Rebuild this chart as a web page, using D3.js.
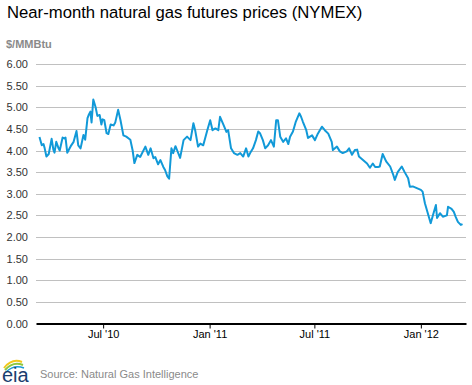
<!DOCTYPE html>
<html>
<head>
<meta charset="utf-8">
<script src="https://cdn.jsdelivr.net/npm/d3@7"></script>
<style>
  body { margin: 0; background: #fff; }
  text { font-family: "Liberation Sans", Arial, sans-serif; }
</style>
</head>
<body>
<script>
// near-month futures price, $/MMBtu
var dates = [
  "2010-03-13","2010-03-17","2010-03-20","2010-03-22","2010-03-25","2010-03-29","2010-04-03","2010-04-06",
  "2010-04-08","2010-04-11","2010-04-15","2010-04-17","2010-04-22","2010-04-25","2010-04-27","2010-04-30",
  "2010-05-06","2010-05-11","2010-05-16","2010-05-19","2010-05-23","2010-05-28","2010-05-31","2010-06-04",
  "2010-06-06","2010-06-09","2010-06-11","2010-06-14","2010-06-18","2010-06-21","2010-06-25","2010-06-28",
  "2010-06-30","2010-07-03","2010-07-07","2010-07-10","2010-07-14","2010-07-19","2010-07-22","2010-07-27",
  "2010-07-31","2010-08-05","2010-08-10","2010-08-17","2010-08-21","2010-08-24","2010-08-29","2010-09-03",
  "2010-09-12","2010-09-17","2010-09-21","2010-09-26","2010-09-29","2010-10-04","2010-10-08","2010-10-13",
  "2010-10-16","2010-10-20","2010-10-23","2010-10-25","2010-10-27","2010-10-30","2010-11-03","2010-11-06",
  "2010-11-11","2010-11-17","2010-11-23","2010-11-29","2010-12-04","2010-12-07","2010-12-12","2010-12-16",
  "2010-12-21","2010-12-28","2011-01-02","2011-01-06","2011-01-11","2011-01-16","2011-01-19","2011-01-25",
  "2011-01-30","2011-02-02","2011-02-07","2011-02-12","2011-02-18","2011-02-23","2011-02-28","2011-03-05",
  "2011-03-09","2011-03-12","2011-03-17","2011-03-22","2011-03-26","2011-03-29","2011-04-03","2011-04-07",
  "2011-04-12","2011-04-17","2011-04-22","2011-04-26","2011-04-29","2011-05-03","2011-05-08","2011-05-13",
  "2011-05-17","2011-05-20","2011-05-25","2011-05-30","2011-06-05","2011-06-08","2011-06-11","2011-06-17",
  "2011-06-20","2011-06-27","2011-07-02","2011-07-07","2011-07-14","2011-07-19","2011-07-25","2011-07-31",
  "2011-08-02","2011-08-09","2011-08-14","2011-08-19","2011-08-26","2011-08-30","2011-09-04","2011-09-09",
  "2011-09-13","2011-09-16","2011-09-23","2011-09-30","2011-10-05","2011-10-10","2011-10-14","2011-10-19",
  "2011-10-22","2011-10-27","2011-11-02","2011-11-09","2011-11-14","2011-11-17","2011-11-22","2011-11-29",
  "2011-12-04","2011-12-10","2011-12-13","2011-12-18","2011-12-25","2012-01-01","2012-01-04","2012-01-08",
  "2012-01-13","2012-01-18","2012-01-22","2012-01-27","2012-01-29","2012-02-03","2012-02-08","2012-02-15",
  "2012-02-17","2012-02-23","2012-02-27","2012-03-01","2012-03-05","2012-03-10","2012-03-13"
];
var prices = [
  4.31,4.12,4.15,4.05,3.86,3.92,4.27,4.02,
  3.95,4.20,4.05,4.00,4.30,4.28,4.30,3.95,
  4.10,4.20,4.45,4.12,4.05,4.36,4.25,4.75,
  4.82,4.90,4.65,5.18,5.00,4.80,4.82,4.60,
  4.72,4.70,4.40,4.38,4.60,4.58,4.65,4.94,
  4.70,4.35,4.32,4.25,4.00,3.71,3.90,3.85,
  4.09,3.90,4.05,3.82,3.85,3.68,3.78,3.62,
  3.55,3.40,3.35,3.70,4.05,3.94,4.10,4.00,
  3.83,4.24,4.32,4.24,4.63,4.47,4.09,4.16,
  4.12,4.47,4.70,4.47,4.51,4.47,4.78,4.59,
  4.43,4.47,4.05,3.94,3.90,3.94,3.86,4.05,
  3.86,3.94,4.05,4.24,4.44,4.40,4.24,4.05,
  4.12,4.24,4.09,4.70,4.70,4.32,4.20,4.28,
  4.15,4.32,4.44,4.67,4.86,4.78,4.67,4.47,
  4.29,4.35,4.24,4.39,4.55,4.47,4.39,4.20,
  4.01,4.09,3.98,3.94,3.98,4.05,3.90,4.01,
  4.02,3.86,3.78,3.70,3.60,3.70,3.62,3.62,
  3.63,3.92,3.75,3.63,3.45,3.32,3.50,3.63,
  3.50,3.36,3.16,3.17,3.13,3.09,3.05,2.78,
  2.55,2.32,2.51,2.74,2.44,2.55,2.47,2.50,
  2.70,2.65,2.58,2.47,2.35,2.28,2.30
];
var yTicks = [0, 0.5, 1, 1.5, 2, 2.5, 3, 3.5, 4, 4.5, 5, 5.5, 6];
var xTicks = ["2010-07-01", "2011-01-01", "2011-07-01", "2012-01-01"];

var width = 472, height = 385;
var plotLeft = 36, plotRight = 466, plotTop = 64, plotBottom = 323.5;

var parse = d3.utcParse("%Y-%m-%d");
var data = dates.map(function(d, i) { return { date: parse(d), value: prices[i] }; });

var svg = d3.select("body").append("svg")
    .attr("width", width)
    .attr("height", height);

var x = d3.scaleUtc()
    .domain([parse("2010-03-07"), parse("2012-03-19")])
    .range([plotLeft, plotRight]);

var y = d3.scaleLinear()
    .domain([0, 6])
    .range([plotBottom, plotTop]);

// title
svg.append("text")
    .attr("x", 7).attr("y", 18)
    .attr("font-size", 16.7)
    .attr("fill", "#000")
    .text("Near-month natural gas futures prices (NYMEX)");

// unit label
svg.append("text")
    .attr("x", 6).attr("y", 48)
    .attr("font-size", 11)
    .attr("font-weight", "bold")
    .attr("fill", "#8a8a8a")
    .text("$/MMBtu");

// gridlines
svg.append("g")
  .selectAll("line")
  .data(yTicks.filter(function(t) { return t > 0; }))
  .join("line")
    .attr("x1", plotLeft).attr("x2", plotRight)
    .attr("y1", function(d) { return Math.round(y(d)) + 0.5; })
    .attr("y2", function(d) { return Math.round(y(d)) + 0.5; })
    .attr("stroke", "#c0c0c0")
    .attr("stroke-width", 1);

// y labels
svg.append("g")
  .selectAll("text")
  .data(yTicks)
  .join("text")
    .attr("x", 28)
    .attr("y", function(d) { return y(d) + 4; })
    .attr("text-anchor", "end")
    .attr("font-size", 11)
    .attr("fill", "#333")
    .text(function(d) { return d3.format(".2f")(d); });

// x axis
var xAxis = d3.axisBottom(x)
    .tickValues(xTicks.map(parse))
    .tickFormat(d3.utcFormat("%b '%y"))
    .tickSize(5)
    .tickSizeOuter(0);

var gx = svg.append("g")
    .attr("transform", "translate(0," + plotBottom + ")")
    .call(xAxis);
gx.select(".domain").attr("stroke", "#000").attr("stroke-width", 2);
gx.selectAll(".tick line").attr("stroke", "#000");
gx.selectAll(".tick text")
    .attr("font-size", 11)
    .attr("font-family", "Liberation Sans, Arial, sans-serif")
    .attr("fill", "#000")
    .attr("dy", "0.55em");

// price line
var line = d3.line()
    .x(function(d) { return x(d.date); })
    .y(function(d) { return y(d.value); });

svg.append("path")
    .datum(data)
    .attr("fill", "none")
    .attr("stroke", "#1199d8")
    .attr("stroke-width", 2)
    .attr("stroke-linejoin", "round")
    .attr("d", line);

// eia logo
var logo = svg.append("g").attr("transform", "translate(2,360)");
logo.append("path").attr("d", "M2,8 Q10,-2 20,2").attr("fill", "none").attr("stroke", "#f2c81a").attr("stroke-width", 2);
logo.append("path").attr("d", "M3,10 Q11,1 21,5").attr("fill", "none").attr("stroke", "#8dc63f").attr("stroke-width", 2);
logo.append("path").attr("d", "M4,12 Q12,4 22,8").attr("fill", "none").attr("stroke", "#1d9ad6").attr("stroke-width", 1.5);
logo.append("text")
    .attr("x", 0).attr("y", 22)
    .attr("font-family", "Liberation Serif, serif")
    .attr("font-size", 20)
    .attr("fill", "#1a3d6e")
    .text("eia");

// source
svg.append("text")
    .attr("x", 40).attr("y", 378)
    .attr("font-size", 11)
    .attr("fill", "#8a8a8a")
    .text("Source: Natural Gas Intelligence");
</script>
</body>
</html>
